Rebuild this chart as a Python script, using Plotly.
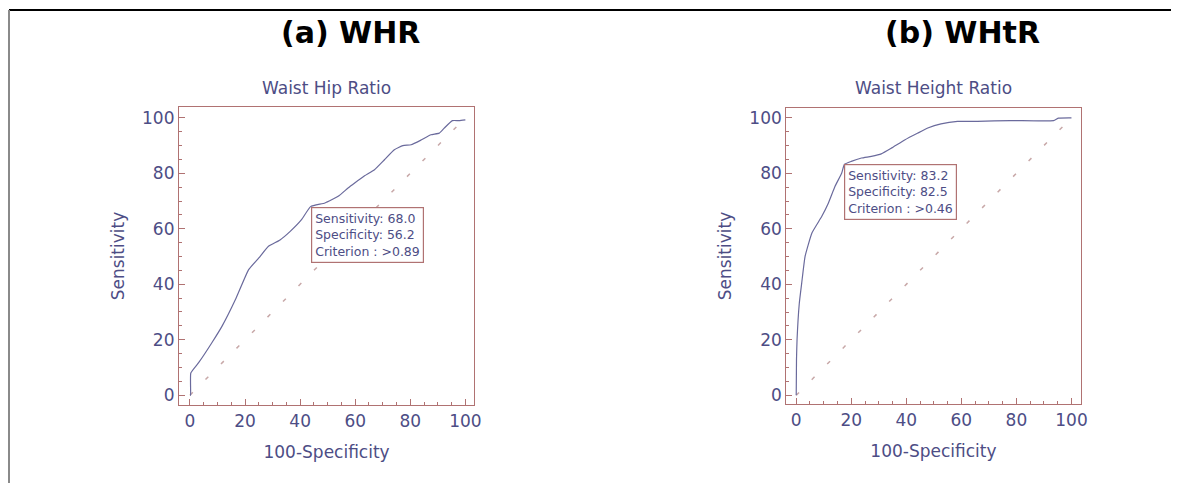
import plotly.graph_objects as go

# WHR ROC curve (100-Specificity, Sensitivity)
whr_fpr = [0, 0.2, 0.3, 3.2, 8, 11.7, 16.5, 21.3, 25, 28.5, 32.7, 36.3, 40.5, 43.8,
           49, 53.8, 57.4, 59.8, 63.4, 67, 70.6, 74.2, 77.3, 80.3, 83.9, 87.5, 90.5,
           92.3, 95.3, 97.7, 100]
whr_sens = [0, 0, 8, 11.8, 19, 25, 34.5, 45.3, 49.5, 53.7, 56, 59, 63.3, 68.0,
            69.3, 71.7, 74.7, 76.5, 79.1, 81.3, 84.9, 88.5, 90, 90.3, 92, 93.9, 94.5,
            96.3, 99, 99, 99.3]

# WHtR ROC curve
whtr_fpr = [0, 0.1, 0.3, 1.1, 2, 3.2, 5.7, 9.3, 11.7, 14.1, 16.5, 17.5, 20, 23.7,
            27.3, 30.9, 34.5, 39.4, 44.2, 47.8, 52.6, 58.6, 65.8, 77.9, 93.5, 95.3, 100]
whtr_sens = [0, 13, 20, 33, 40.5, 50, 58.5, 64.5, 69.3, 75.3, 80, 83.2, 84.3, 85.5,
             86.1, 87, 89, 92, 94.5, 96.3, 97.8, 98.7, 98.7, 99, 99, 99.9, 100]

diag = [0, 100]
ticks = [0, 20, 40, 60, 80, 100]
panel_titles = ["(a) WHR", "(b) WHtR"]
sub_titles = ["Waist Hip Ratio", "Waist Height Ratio"]
box_texts = ["Sensitivity: 68.0<br>Specificity: 56.2<br>Criterion : >0.89",
             "Sensitivity: 83.2<br>Specificity: 82.5<br>Criterion : >0.46"]
box_points = [(43.8, 68.0), (17.5, 83.2)]

# the page body has an 8px margin; figure is placed at (8, 8)
OFF = 8
W, H = 1179 - OFF, 484 - OFF
CURVE = "#6a6a9c"
TXT = "#4d4d85"
FRAME = "#b07272"
DIAG = "#c8a8a8"
FONT = "DejaVu Sans"

def px(x):
    return (x - OFF) / W

def py(y):
    return 1 - (y - OFF) / H

fig = go.Figure()

curves = [(whr_fpr, whr_sens), (whtr_fpr, whtr_sens)]
for i, (xs, ys) in enumerate(curves):
    ax = "" if i == 0 else "2"
    fig.add_trace(go.Scatter(x=diag, y=diag, mode="lines", xaxis="x" + ax, yaxis="y" + ax,
                             line=dict(color=DIAG, width=1.5, dash="4px,18px"),
                             showlegend=False, hoverinfo="skip"))
    fig.add_trace(go.Scatter(x=xs, y=ys, mode="lines", xaxis="x" + ax, yaxis="y" + ax,
                             line=dict(color=CURVE, width=1.2, shape="spline", smoothing=0.4),
                             showlegend=False))

# pixel geometry of plot boxes in the page
boxes = [(180, 477, 107, 406), (791, 1087, 108, 405)]
xranges = [(-4.0, 103.2), (-3.6, 103.3)]
yranges = [(-3.6, 104.0), (-3.2, 103.6)]

def axis_common():
    return dict(showline=True, linecolor=FRAME, linewidth=1.2, mirror=True,
                ticks="inside", ticklen=6, tickcolor=FRAME, tickwidth=1,
                tickvals=ticks, showgrid=False, zeroline=False,
                tickfont=dict(family=FONT, size=17, color=TXT),
                minor=dict(ticks="inside", ticklen=3, tickcolor=FRAME, dtick=5, tick0=0, showgrid=False),
                fixedrange=True)

layout = dict(width=W, height=H, margin=dict(l=0, r=0, t=0, b=0),
              paper_bgcolor="white", plot_bgcolor="white", showlegend=False)
for i, (l, r, t, b) in enumerate(boxes):
    ax = "" if i == 0 else "2"
    xa = axis_common()
    xa.update(domain=[px(l), px(r)], range=list(xranges[i]), anchor="y" + ax,
              title=dict(text="100-Specificity", font=dict(family=FONT, size=17, color=TXT), standoff=16))
    ya = axis_common()
    ya.update(domain=[py(b), py(t)], range=list(yranges[i]), anchor="x" + ax,
              title=dict(text="Sensitivity", font=dict(family=FONT, size=17, color=TXT), standoff=13))
    layout["xaxis" + ax] = xa
    layout["yaxis" + ax] = ya
fig.update_layout(**layout)

annotations = []
centers = [353, 968]
for i, (l, r, t, b) in enumerate(boxes):
    ax = "" if i == 0 else "2"
    annotations.append(dict(text="<b>" + panel_titles[i] + "</b>", x=px(centers[i]), y=py(33),
                            xref="paper", yref="paper", showarrow=False, xanchor="center", yanchor="middle",
                            font=dict(family=FONT, size=30, color="black")))
    annotations.append(dict(text=sub_titles[i], x=px((l + r) / 2), y=py(88),
                            xref="paper", yref="paper", showarrow=False, xanchor="center", yanchor="middle",
                            font=dict(family=FONT, size=17, color=TXT)))
    bx, by = box_points[i]
    annotations.append(dict(text=box_texts[i], x=bx, y=by, xref="x" + ax, yref="y" + ax,
                            showarrow=False, xanchor="left", yanchor="top", align="left",
                            bordercolor=FRAME, borderwidth=1.2, borderpad=3, bgcolor="white",
                            font=dict(family=FONT, size=12.5, color=TXT)))
fig.update_layout(annotations=annotations)

shapes = [
    dict(type="line", xref="paper", yref="paper", x0=px(9), x1=1, y0=py(10), y1=py(10),
         line=dict(color="black", width=2)),
    dict(type="line", xref="paper", yref="paper", x0=px(9), x1=px(9), y0=0, y1=py(10),
         line=dict(color="#8a8a8a", width=2)),
]
fig.update_layout(shapes=shapes)

fig.write_html("out.html")
